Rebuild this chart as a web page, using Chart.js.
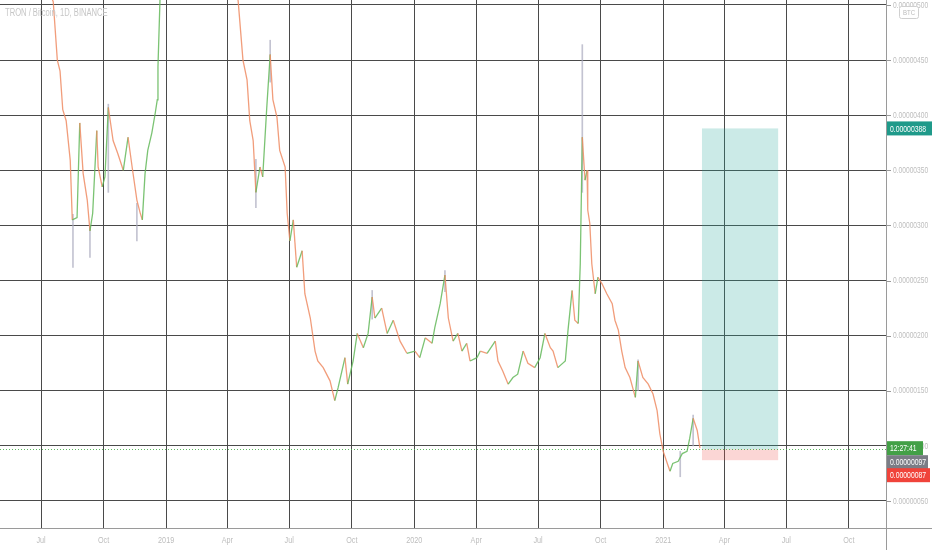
<!DOCTYPE html>
<html>
<head>
<meta charset="utf-8">
<script src="https://cdn.jsdelivr.net/npm/chart.js@4/dist/chart.umd.min.js"></script>
<style>
  html, body { margin: 0; padding: 0; background: #ffffff; }
  #wrap { width: 932px; height: 550px; position: relative; }
</style>
</head>
<body>
<div id="wrap"><canvas id="c" width="932" height="550"></canvas></div>
<script>
// Days counted from 2018-07-01; prices in satoshi (1e-8 BTC)
const days = [-60,-31,6,18,24,28,32,37,43,46,53,57,62,68,72,76,82,84,90,94,99,106,113,121,128,134,141,146,149,153,157,163,168,171,172,175,182,204,234,263,282,290,
  297,303,307,312,316,322,326,332,337,341,347,351,359,362,366,371,376,384,388,396,403,407,415,425,432,437,447,451,459,465,474,481,487,491,501,509,518,528,538,
  550,557,565,575,579,587,594,599,606,613,619,626,631,641,646,656,668,672,679,687,694,701,709,716,726,734,741,749,753,760,771,775,781,785,790,793,796,800,803,804,807,810,815,819,825,832,840,844,849,854,859,866,874,878,885,893,900,906,910,915,921,925,929,937,943,950,954,959,965,969];
const closes = [560,540,520,503,450,440,405,395,359,305,307,393,347,323,295,311,386,353,335,344,407,377,365,350,380,353,323,311,305,347,368,384,402,414,444,505,560,650,700,620,540,503,
  450,432,395,377,330,353,344,407,455,414,398,368,353,311,286,305,262,277,238,216,186,177,171,159,141,153,180,156,177,202,189,202,235,216,225,202,214,195,184,
  186,180,198,193,207,229,255,216,195,202,186,193,177,180,186,184,195,177,168,156,162,165,186,175,171,180,202,189,186,171,177,205,241,214,211,265,380,341,350,314,302,265,238,253,247,238,229,214,205,186,171,162,144,177,162,156,147,132,111,95,84,77,84,86,93,95,107,125,114,98];

// Notable wicks
const wickDays = [47,72,99,141,316,337,487,594,796,878,959,940];
const wickLow  = [262,271,330,286,316,430,215,240,330,150,100,72];
const wickHigh = [310,300,410,320,360,468,241,259,464,178,128,95];

const quarterDays   = [0,92,184,274,365,457,549,640,731,823,915,1005,1096,1188];
const quarterLabels = ['Jul','Oct','2019','Apr','Jul','Oct','2020','Apr','Jul','Oct','2021','Apr','Jul','Oct'];
const priceTicks = [50,100,150,200,250,300,350,400,450,500];

const lastPrice = 97;
const targetPrice = 388;
const stopPrice = 87;
const positionStartDay = 972;
const positionEndDay = 1084;
const countdown = '12:27:41';
const titleText = 'TRON / Bitcoin, 1D, BINANCE';

const fmt = v => '0.' + String(Math.round(v)).padStart(8, '0');
const FONT = "'Liberation Sans', Arial, sans-serif";

const UP = 'rgba(100,185,90,0.85)';
const DOWN = 'rgba(238,140,100,0.85)';

function narrowText(ctx, text, x, y, align, size, color, squeeze) {
  ctx.save();
  ctx.translate(x, y);
  ctx.scale(squeeze, 1);
  ctx.font = size + 'px ' + FONT;
  ctx.fillStyle = color;
  ctx.textAlign = align;
  ctx.textBaseline = 'middle';
  ctx.fillText(text, 0, 0);
  ctx.restore();
}

const overlay = {
  id: 'overlay',
  beforeDatasetsDraw(chart) {
    const { ctx, scales: { x, y } } = chart;
    const x0 = x.getPixelForValue(positionStartDay), x1 = x.getPixelForValue(positionEndDay);
    const yT = y.getPixelForValue(targetPrice), yE = y.getPixelForValue(lastPrice), yS = y.getPixelForValue(stopPrice);
    ctx.save();
    ctx.fillStyle = 'rgba(38,166,154,0.24)';
    ctx.fillRect(x0, yT, x1 - x0, yE - yT);
    ctx.fillStyle = 'rgba(239,83,80,0.24)';
    ctx.fillRect(x0, yE, x1 - x0, yS - yE);
    ctx.restore();
  },
  afterDraw(chart) {
    const { ctx, chartArea: a, scales: { x, y } } = chart;
    ctx.save();
    // pane separators and y tick marks
    ctx.strokeStyle = '#9a9a9a';
    ctx.lineWidth = 1;
    ctx.beginPath();
    ctx.moveTo(0, Math.round(a.bottom) + 0.5); ctx.lineTo(932, Math.round(a.bottom) + 0.5);
    ctx.moveTo(Math.round(a.right) + 0.5, 0); ctx.lineTo(Math.round(a.right) + 0.5, 550);
    y.ticks.forEach(t => {
      const py = Math.round(y.getPixelForValue(t.value)) + 0.5;
      ctx.moveTo(a.right, py); ctx.lineTo(a.right + 5, py);
    });
    ctx.stroke();
    // y tick labels
    y.ticks.forEach(t => {
      narrowText(ctx, fmt(t.value), a.right + 7, y.getPixelForValue(t.value), 'left', 9.5, '#bdbdbd', 0.70);
    });
    // x tick labels
    x.ticks.forEach((t, i) => {
      narrowText(ctx, quarterLabels[i], x.getPixelForValue(t.value), a.bottom + 12, 'center', 9.5, '#bdbdbd', 0.76);
    });
    // last price dotted line
    const yp = Math.round(y.getPixelForValue(lastPrice)) + 0.5;
    ctx.strokeStyle = 'rgba(76,175,80,0.9)';
    ctx.setLineDash([1, 2]);
    ctx.beginPath(); ctx.moveTo(a.left, yp); ctx.lineTo(a.right, yp); ctx.stroke();
    ctx.setLineDash([]);
    // title
    narrowText(ctx, titleText, 5, 13, 'left', 10, '#c6c6c6', 0.76);
    // BTC button
    ctx.strokeStyle = '#d0d0d0';
    ctx.beginPath();
    if (ctx.roundRect) ctx.roundRect(899.5, 6.5, 19, 12, 2); else ctx.rect(899.5, 6.5, 19, 12);
    ctx.fillStyle = '#ffffff';
    ctx.fill();
    ctx.stroke();
    narrowText(ctx, 'BTC', 909, 12.8, 'center', 8, '#bbbbbb', 0.76);
    // axis price labels
    const lab = (text, cy, w, bg) => {
      ctx.fillStyle = bg;
      ctx.fillRect(a.right + 1, cy - 7, w, 14);
      narrowText(ctx, text, a.right + 4, cy + 0.5, 'left', 9.5, '#ffffff', 0.72);
    };
    lab(fmt(targetPrice), y.getPixelForValue(targetPrice), 45, '#1f9a8a');
    const yc = y.getPixelForValue(lastPrice);
    lab(countdown, yc - 1, 36, '#43a047');
    lab(fmt(lastPrice), yc + 13, 41, '#7b7d86');
    lab(fmt(stopPrice), yc + 26, 43, '#f0433a');
    ctx.restore();
  }
};

new Chart(document.getElementById('c'), {
  type: 'line',
  data: {
    datasets: [
      {
        type: 'line',
        data: days.map((d, i) => ({ x: d, y: closes[i] })),
        borderWidth: 1.3,
        pointRadius: 0,
        tension: 0,
        borderColor: UP,
        segment: { borderColor: c => (c.p1.parsed.y < c.p0.parsed.y ? DOWN : UP) },
        order: 1
      },
      {
        type: 'bar',
        data: wickDays.map((d, i) => ({ x: d, y: [wickLow[i], wickHigh[i]] })),
        backgroundColor: 'rgba(170,170,190,0.7)',
        barThickness: 1,
        grouped: false,
        order: 2
      }
    ]
  },
  options: {
    responsive: false,
    animation: false,
    events: [],
    layout: { padding: 0 },
    plugins: { legend: { display: false }, tooltip: { enabled: false }, title: { display: false } },
    scales: {
      x: {
        type: 'linear',
        min: -60.3,
        max: 1242.6,
        offset: false,
        afterFit: s => { s.height = 22; },
        afterBuildTicks: s => { s.ticks = quarterDays.map(v => ({ value: v })); },
        ticks: { display: false },
        grid: { color: '#4a4a4a', lineWidth: 1, drawTicks: false, offset: false },
        border: { display: false }
      },
      y: {
        type: 'linear',
        position: 'right',
        min: 25.5,
        max: 504.5,
        afterFit: s => { s.width = 46; },
        afterBuildTicks: s => { s.ticks = priceTicks.map(v => ({ value: v })); },
        ticks: { display: false },
        grid: { color: '#4a4a4a', lineWidth: 1, drawTicks: false },
        border: { display: false }
      }
    }
  },
  plugins: [overlay]
});
</script>
</body>
</html>
